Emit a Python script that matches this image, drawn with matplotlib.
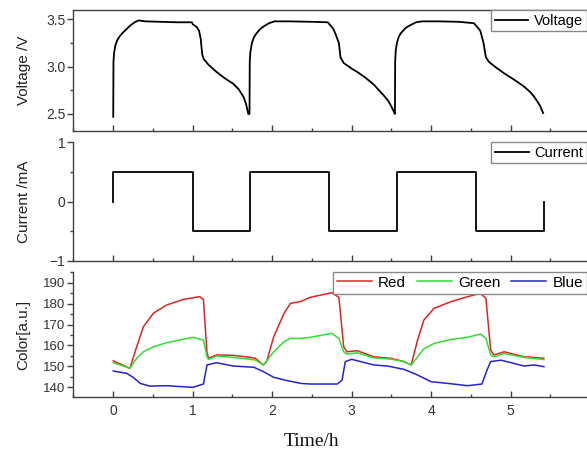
import matplotlib
matplotlib.use('Agg')
import matplotlib.pyplot as plt
from matplotlib.ticker import MultipleLocator

# ---- data ----
volt_t = [0.000, 0.003, 0.010, 0.025, 0.05, 0.08, 0.12, 0.17, 0.22, 0.27, 0.32, 0.40, 0.60, 0.80, 0.99,
          1.00, 1.05, 1.08, 1.10, 1.12, 1.14, 1.20, 1.30, 1.40, 1.51, 1.58, 1.64, 1.67, 1.70,
          1.715, 1.718, 1.725, 1.745, 1.77, 1.80, 1.85, 1.90, 1.96, 2.03, 2.20, 2.50, 2.70,
          2.71, 2.77, 2.80, 2.84, 2.86, 2.90, 3.00, 3.07, 3.18, 3.28, 3.40, 3.46, 3.50, 3.54,
          3.545, 3.548, 3.555, 3.57, 3.59, 3.615, 3.68, 3.74, 3.81, 3.89, 4.10, 4.35, 4.54,
          4.56, 4.60, 4.62, 4.66, 4.69, 4.73, 4.82, 4.92, 5.05, 5.17, 5.25, 5.30, 5.37, 5.41]
volt_v = [2.47, 3.05, 3.14, 3.22, 3.28, 3.32, 3.36, 3.40, 3.44, 3.47, 3.49, 3.48, 3.475, 3.47, 3.47,
          3.45, 3.42, 3.38, 3.30, 3.13, 3.08, 3.02, 2.945, 2.88, 2.82, 2.76, 2.68, 2.61, 2.50,
          2.50, 3.05, 3.15, 3.25, 3.31, 3.35, 3.40, 3.43, 3.46, 3.48, 3.48, 3.475, 3.47,
          3.46, 3.40, 3.34, 3.25, 3.10, 3.04, 2.98, 2.945, 2.88, 2.81, 2.70, 2.64, 2.58, 2.51,
          2.50, 3.05, 3.17, 3.25, 3.31, 3.35, 3.41, 3.44, 3.47, 3.48, 3.48, 3.475, 3.46,
          3.44, 3.40, 3.38, 3.25, 3.10, 3.05, 2.99, 2.93, 2.86, 2.79, 2.73, 2.68, 2.59, 2.51]

curr_t = [0, 0, 1.0, 1.0, 1.72, 1.72, 2.72, 2.72, 3.565, 3.565, 4.56, 4.56, 5.42, 5.42]
curr_i = [0, 0.5, 0.5, -0.5, -0.5, 0.5, 0.5, -0.5, -0.5, 0.5, 0.5, -0.5, -0.5, 0]

red_t = [0.0, 0.21, 0.295, 0.38, 0.505, 0.67, 0.88, 1.09, 1.135, 1.18, 1.20, 1.30, 1.51, 1.72, 1.79,
         1.89, 1.93, 2.02, 2.15, 2.23, 2.36, 2.48, 2.75, 2.84, 2.90, 2.94, 3.07, 3.28, 3.49, 3.66,
         3.75, 3.83, 3.91, 4.04, 4.25, 4.46, 4.62, 4.69, 4.75, 4.79, 4.92, 5.17, 5.30, 5.42]
red_v = [152.7, 149.1, 159.4, 169.0, 175.4, 179.3, 182.0, 183.3, 182.0, 156.4, 153.9, 155.5, 155.3, 154.3, 153.9,
         150.7, 152.3, 164.2, 175.4, 180.1, 181.0, 183.0, 185.2, 183.0, 159.4, 157.0, 157.5, 154.6, 153.9, 152.3,
         150.7, 162.6, 172.2, 177.8, 180.9, 183.3, 184.9, 182.5, 157.8, 155.5, 157.0, 154.6, 154.3, 153.9]

green_t = [0.0, 0.21, 0.295, 0.38, 0.505, 0.67, 0.88, 1.0, 1.135, 1.18, 1.20, 1.30, 1.51, 1.79, 1.89,
           2.02, 2.15, 2.23, 2.36, 2.48, 2.75, 2.84, 2.90, 2.94, 3.07, 3.28, 3.49, 3.66, 3.75, 3.83,
           3.91, 4.04, 4.25, 4.46, 4.62, 4.69, 4.75, 4.79, 4.92, 5.17, 5.42]
green_v = [151.8, 149.1, 153.9, 157.0, 159.4, 161.3, 163.0, 163.9, 162.6, 154.6, 153.3, 155.0, 154.3, 153.1, 150.7,
           157.0, 161.8, 163.4, 163.4, 163.9, 165.8, 163.4, 157.0, 155.9, 156.5, 154.1, 153.5, 152.3, 150.7, 154.6,
           158.5, 161.0, 162.9, 163.9, 165.5, 163.4, 155.5, 154.6, 156.2, 154.3, 153.3]

blue_t = [0.0, 0.17, 0.25, 0.34, 0.46, 0.67, 1.0, 1.135, 1.18, 1.30, 1.51, 1.77, 1.89, 2.02, 2.19,
          2.36, 2.48, 2.82, 2.88, 2.92, 3.0, 3.28, 3.45, 3.66, 3.83, 4.0, 4.21, 4.46, 4.64, 4.71,
          4.75, 4.88, 5.17, 5.30, 5.42]
blue_v = [147.8, 146.7, 144.8, 141.9, 140.6, 140.8, 140.0, 141.6, 150.7, 151.8, 150.2, 149.6, 147.5, 144.8, 143.2,
          141.9, 141.6, 141.6, 143.5, 152.3, 153.4, 150.7, 150.2, 148.6, 145.9, 142.7, 141.9, 140.8, 141.6, 148.8,
          152.3, 153.0, 150.2, 150.7, 149.9]

W, H = 587, 454
fig = plt.figure(figsize=(W / 100, H / 100), dpi=100)
plt.rcParams['font.family'] = ['Liberation Sans', 'DejaVu Sans']

spine_c = '#404040'
tick_c = '#404040'


def frac(x0, y_top, y_bot):
    # axes box in figure fractions from pixel coords
    return [x0 / W, 1 - y_bot / H, (590 - x0) / W, (y_bot - y_top) / H]


ax1 = fig.add_axes(frac(73.5, 10, 131))
ax2 = fig.add_axes(frac(73.5, 142, 261))
ax3 = fig.add_axes(frac(73.5, 272, 397))

ax1.plot(volt_t, volt_v, color='black', lw=1.3, label='Voltage')
ax2.plot(curr_t, curr_i, color='black', lw=1.3, label='Current')
ax3.plot(red_t, red_v, color='#e02424', lw=1.1, label='Red')
ax3.plot(green_t, green_v, color='#33dd33', lw=1.1, label='Green')
ax3.plot(blue_t, blue_v, color='#2424c8', lw=1.1, label='Blue')

ax1.set_ylim(2.32, 3.6)
ax2.set_ylim(-1, 1)
ax3.set_ylim(135.4, 195.1)

ax1.yaxis.set_major_locator(MultipleLocator(0.5))
ax1.yaxis.set_minor_locator(MultipleLocator(0.25))
ax2.yaxis.set_major_locator(MultipleLocator(1))
ax2.yaxis.set_minor_locator(MultipleLocator(0.5))
ax3.yaxis.set_major_locator(MultipleLocator(10))
ax3.yaxis.set_minor_locator(MultipleLocator(5))
ax1.yaxis.set_major_formatter(matplotlib.ticker.FormatStrFormatter('%.1f'))

for ax in (ax1, ax2, ax3):
    ax.set_xlim(-0.5, 6.0)
    ax.xaxis.set_major_locator(MultipleLocator(1))
    ax.xaxis.set_minor_locator(MultipleLocator(0.5))
    for s in ax.spines.values():
        s.set_color(spine_c)
        s.set_linewidth(1.0)
    ax.tick_params(axis='x', which='major', direction='in', length=4, width=1, color=tick_c)
    ax.tick_params(axis='x', which='minor', direction='in', length=2.2, width=1, color=tick_c)
    ax.tick_params(axis='y', which='major', direction='out', length=4.5, width=1, color=tick_c,
                   labelsize=10, labelcolor='#333333', pad=1.5)
    ax.tick_params(axis='y', which='minor', direction='out', length=2.5, width=1, color=tick_c)

for ax in (ax2, ax3):
    ax.spines['top'].set_visible(False)

ax1.tick_params(axis='x', labelbottom=False)
ax2.tick_params(axis='x', labelbottom=False)
ax3.tick_params(axis='x', labelsize=10, labelcolor='#333333', pad=5)
ax3.tick_params(axis='y', labelsize=9.5)

ax1.set_ylabel('Voltage /V', fontsize=11, color='#222222')
ax2.set_ylabel('Current /mA', fontsize=11, color='#222222')
ax3.set_ylabel('Color[a.u.]', fontsize=11, color='#222222')
for ax in (ax1, ax2, ax3):
    ax.yaxis.set_label_coords(-0.083, 0.5)

fig.text(312 / W, 1 - 441 / H, 'Time/h', family=['Liberation Serif', 'DejaVu Serif'],
         fontsize=14, ha='center', va='center', color='#111111')

leg_kw = dict(loc='upper right', bbox_to_anchor=(0.994, 1.0), borderaxespad=0,
              fancybox=False, edgecolor='#888888', framealpha=1,
              handlelength=2.3, borderpad=0.25, handletextpad=0.4)
ax1.legend(fontsize=10.5, **leg_kw)
ax2.legend(fontsize=10.5, **leg_kw)
ax3.legend(ncol=3, columnspacing=0.7, fontsize=11, **leg_kw)

fig.savefig('out.png', dpi=100)
